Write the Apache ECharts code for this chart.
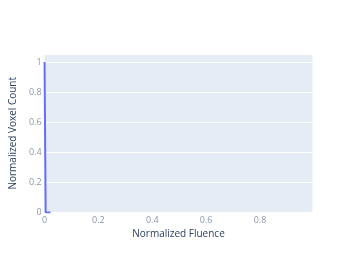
<!DOCTYPE html>
<html><head><meta charset="utf-8">
<script src="https://cdn.jsdelivr.net/npm/echarts@6/dist/echarts.min.js"></script>
<style>html,body{margin:0;padding:0;background:#fff}#c{width:357px;height:255px}</style>
</head><body><div id="c"></div>
<script>
const fluence = [0, 0.004, 0.022];
const voxelCount = [1, 0, 0];
const xTitle = 'Normalized Fluence';
const yTitle = 'Normalized Voxel Count';

const chart = echarts.init(document.getElementById('c'), null, {renderer: 'canvas'});
const fmt = v => (Math.abs(v) < 1e-9 ? '0' : String(+v.toFixed(1)));
chart.setOption({
  animation: false,
  grid: {left: 44.5, right: 44.5, top: 54, bottom: 42.5, show: true, backgroundColor: '#e5ecf6', borderWidth: 0},
  xAxis: {
    type: 'value', min: 0, max: 0.995, interval: 0.2,
    name: xTitle, nameLocation: 'middle', nameGap: 17,
    nameTextStyle: {color: '#2a3f5f', fontFamily: 'Open Sans', fontSize: 10},
    axisLine: {show: false}, axisTick: {show: false}, splitLine: {show: false},
    axisLabel: {color: '#8a97a8', fontFamily: 'Open Sans', fontSize: 9, margin: 3, showMaxLabel: false, formatter: fmt}
  },
  yAxis: {
    type: 'value', min: 0, max: 1.053, interval: 0.2,
    name: yTitle, nameLocation: 'middle', nameGap: 21,
    nameTextStyle: {color: '#2a3f5f', fontFamily: 'Open Sans', fontSize: 10},
    axisLine: {show: false}, axisTick: {show: false},
    splitLine: {lineStyle: {color: '#ffffff', width: 1}},
    axisLabel: {color: '#8a97a8', fontFamily: 'Open Sans', fontSize: 9, margin: 3, showMaxLabel: false, formatter: fmt}
  },
  series: [{
    type: 'line', data: fluence.map((x, i) => [x, voxelCount[i]]),
    showSymbol: false, clip: true,
    lineStyle: {color: '#636efa', width: 2}
  }]
});
</script></body></html>
